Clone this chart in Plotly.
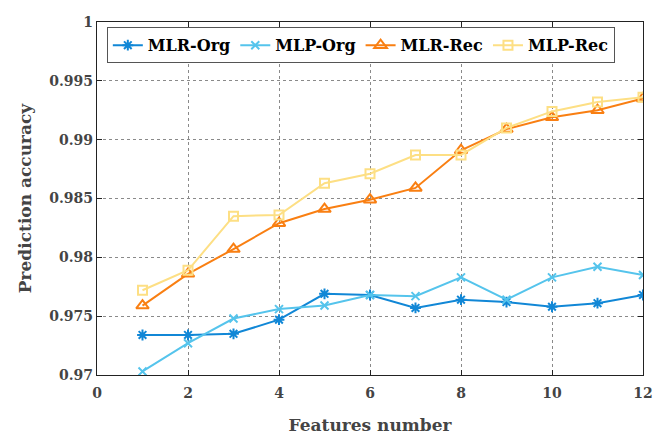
import plotly.graph_objects as go

features = list(range(1, 13))
mlr_org = [0.9734, 0.9734, 0.9735, 0.9747, 0.9769, 0.9768, 0.9757, 0.9764, 0.9762, 0.9758, 0.9761, 0.9768]
mlp_org = [0.9703, 0.9727, 0.9748, 0.9756, 0.9759, 0.9768, 0.9767, 0.9783, 0.9764, 0.9783, 0.9792, 0.9785]
mlr_rec = [0.9759, 0.9786, 0.9807, 0.9829, 0.9841, 0.9849, 0.9859, 0.9891, 0.9909, 0.9919, 0.9925, 0.9935]
mlp_rec = [0.9772, 0.9789, 0.9835, 0.9836, 0.9863, 0.9871, 0.9887, 0.9887, 0.9910, 0.9924, 0.9932, 0.9936]

series = [
    ("MLR-Org", mlr_org, "#1187D6", "asterisk-open", 9),
    ("MLP-Org", mlp_org, "#55C4EC", "x-thin-open", 8),
    ("MLR-Rec", mlr_rec, "#F97F12", "triangle-up-open", 11),
    ("MLP-Rec", mlp_rec, "#FDDF84", "square-open", 9),
]

FONT = "DejaVu Serif"

fig = go.Figure()
for name, vals, color, symbol, size in series:
    fig.add_trace(go.Scatter(
        x=features, y=vals, name=name, mode="lines+markers",
        line=dict(color=color, width=2),
        marker=dict(symbol=symbol, size=size, color=color,
                    line=dict(color=color, width=2)),
    ))

axis_common = dict(
    showline=True, linecolor="#222", linewidth=1.2, mirror="ticks",
    ticks="inside", ticklen=5, tickcolor="#222",
    showgrid=True, gridcolor="#8a8a8a", griddash="dot", gridwidth=1,
    zeroline=False, automargin=False,
    tickfont=dict(family=FONT, size=14, color="#444", weight="bold"),
)

fig.update_xaxes(
    range=[0, 12], dtick=2, tick0=0, ticklabelstandoff=5,
    title=dict(text="Features number", standoff=20,
               font=dict(family=FONT, size=17, color="#444", weight="bold")),
    **axis_common,
)
fig.update_yaxes(
    range=[0.97, 1.0],
    tickvals=[0.97, 0.975, 0.98, 0.985, 0.99, 0.995, 1.0],
    ticktext=["0.97", "0.975", "0.98", "0.985", "0.99", "0.995", "1"],
    title=dict(text="Prediction accuracy", standoff=13,
               font=dict(family=FONT, size=17, color="#444", weight="bold")),
    **axis_common,
)

fig.update_layout(
    width=654, height=435,
    margin=dict(l=97, r=11, t=22, b=60),
    paper_bgcolor="white", plot_bgcolor="white",
    showlegend=True,
    legend=dict(
        orientation="h", x=0.018, y=0.985, xanchor="left", yanchor="top",
        bgcolor="white", bordercolor="#555", borderwidth=1,
        font=dict(family=FONT, size=16, color="black", weight="bold"),
    ),
)

fig.write_html("out.html")
